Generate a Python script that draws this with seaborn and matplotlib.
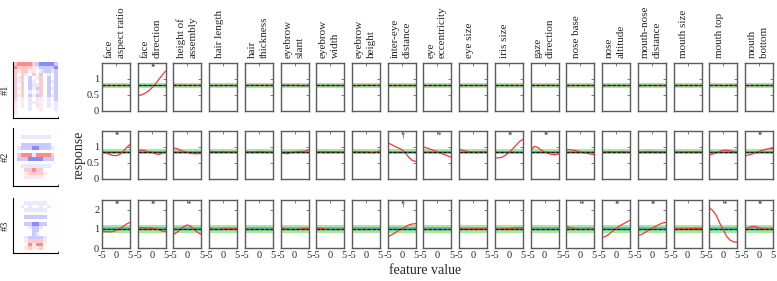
import numpy as np
import seaborn as sns
import matplotlib.pyplot as plt

sns.set_style('white')
plt.rcParams['font.family'] = ['Liberation Serif', 'DejaVu Serif']

features = ["face\naspect ratio", "face\ndirection", "height of\nassembly", "hair length",
            "hair\nthickness", "eyebrow\nslant", "eyebrow\nwidth", "eyebrow\nheight",
            "inter-eye\ndistance", "eye\neccentricity", "eye size", "iris size",
            "gaze\ndirection", "nose base", "nose\naltitude", "mouth-nose\ndistance",
            "mouth size", "mouth top", "mouth\nbottom"]
feature_x = [-5, -3.75, -2.5, -1.25, 0, 1.25, 2.5, 3.75, 5]

# mean response of each unit (green band = spread around it)
baseline = [0.8, 0.85, 1.0]
band_outer = [0.08, 0.08, 0.2]
band_inner = [0.025, 0.025, 0.07]
ytop = [1.5, 1.5, 2.5]
yticks = [[0, 0.5, 1], [0, 0.5, 1], [0, 1, 2]]
ytick_labels = [["0", "0.5", "1"], ["0", "0.5", "1"], ["0", "1", "2"]]

resp_row1 = [
    [0.80, 0.80, 0.80, 0.80, 0.80, 0.80, 0.80, 0.80, 0.80],
    [0.48, 0.50, 0.55, 0.62, 0.72, 0.84, 0.98, 1.12, 1.25],
    [0.81, 0.80, 0.80, 0.80, 0.80, 0.80, 0.80, 0.80, 0.81],
    [0.80, 0.80, 0.80, 0.80, 0.80, 0.80, 0.80, 0.80, 0.80],
    [0.79, 0.80, 0.80, 0.80, 0.80, 0.80, 0.80, 0.80, 0.80],
    [0.80, 0.80, 0.80, 0.80, 0.80, 0.80, 0.79, 0.79, 0.80],
    [0.80, 0.80, 0.80, 0.80, 0.80, 0.80, 0.80, 0.80, 0.80],
    [0.79, 0.79, 0.80, 0.80, 0.80, 0.80, 0.80, 0.80, 0.80],
    [0.80, 0.80, 0.80, 0.80, 0.80, 0.80, 0.80, 0.80, 0.80],
    [0.80, 0.80, 0.80, 0.80, 0.80, 0.80, 0.80, 0.80, 0.80],
    [0.80, 0.80, 0.80, 0.80, 0.80, 0.80, 0.80, 0.80, 0.80],
    [0.80, 0.80, 0.80, 0.80, 0.80, 0.80, 0.80, 0.80, 0.80],
    [0.80, 0.80, 0.80, 0.80, 0.80, 0.80, 0.80, 0.80, 0.79],
    [0.80, 0.80, 0.80, 0.80, 0.80, 0.80, 0.80, 0.80, 0.80],
    [0.80, 0.80, 0.80, 0.80, 0.80, 0.80, 0.80, 0.80, 0.80],
    [0.80, 0.80, 0.80, 0.80, 0.80, 0.80, 0.80, 0.80, 0.80],
    [0.80, 0.80, 0.80, 0.80, 0.80, 0.80, 0.80, 0.80, 0.80],
    [0.80, 0.80, 0.80, 0.80, 0.79, 0.80, 0.80, 0.80, 0.80],
    [0.80, 0.80, 0.80, 0.80, 0.80, 0.80, 0.80, 0.80, 0.80],
]
resp_row2 = [
    [0.85, 0.82, 0.78, 0.74, 0.73, 0.76, 0.85, 0.98, 1.08],
    [0.88, 0.91, 0.89, 0.85, 0.83, 0.79, 0.77, 0.80, 0.86],
    [0.98, 0.95, 0.90, 0.86, 0.83, 0.80, 0.79, 0.79, 0.80],
    [0.86, 0.86, 0.85, 0.85, 0.86, 0.85, 0.84, 0.85, 0.85],
    [0.85, 0.85, 0.85, 0.85, 0.86, 0.86, 0.85, 0.85, 0.85],
    [0.85, 0.80, 0.79, 0.82, 0.85, 0.86, 0.86, 0.87, 0.91],
    [0.85, 0.85, 0.85, 0.85, 0.85, 0.85, 0.84, 0.84, 0.85],
    [0.86, 0.86, 0.85, 0.85, 0.85, 0.84, 0.82, 0.84, 0.88],
    [1.13, 1.08, 1.02, 0.97, 0.92, 0.82, 0.68, 0.58, 0.55],
    [1.00, 0.97, 0.93, 0.89, 0.85, 0.80, 0.76, 0.72, 0.68],
    [0.93, 0.90, 0.87, 0.85, 0.84, 0.84, 0.85, 0.85, 0.86],
    [0.66, 0.66, 0.68, 0.74, 0.83, 0.93, 1.05, 1.17, 1.24],
    [0.88, 1.02, 0.99, 0.90, 0.85, 0.80, 0.77, 0.76, 0.78],
    [0.92, 0.92, 0.90, 0.88, 0.85, 0.82, 0.80, 0.78, 0.76],
    [0.85, 0.85, 0.86, 0.85, 0.85, 0.85, 0.86, 0.85, 0.85],
    [0.85, 0.85, 0.86, 0.86, 0.86, 0.85, 0.85, 0.85, 0.85],
    [0.85, 0.85, 0.85, 0.84, 0.85, 0.85, 0.85, 0.85, 0.85],
    [0.75, 0.78, 0.82, 0.86, 0.90, 0.90, 0.88, 0.86, 0.85],
    [0.72, 0.75, 0.78, 0.82, 0.86, 0.90, 0.93, 0.95, 0.95],
]
resp_row3 = [
    [0.85, 0.85, 0.84, 0.85, 0.90, 1.00, 1.12, 1.25, 1.33],
    [1.05, 1.05, 1.05, 1.04, 1.03, 1.00, 0.95, 0.88, 0.85],
    [0.70, 0.82, 0.98, 1.12, 1.20, 1.12, 0.95, 0.80, 0.70],
    [1.00, 0.98, 0.96, 0.97, 0.99, 1.00, 1.00, 1.00, 1.01],
    [1.00, 1.00, 1.00, 1.00, 1.00, 1.00, 1.00, 1.00, 1.00],
    [1.00, 1.00, 0.98, 0.96, 0.96, 0.97, 1.00, 1.02, 1.00],
    [1.03, 1.02, 0.99, 0.97, 0.96, 0.96, 0.96, 0.97, 0.98],
    [1.00, 1.00, 1.00, 1.00, 1.00, 1.00, 1.00, 1.00, 1.00],
    [0.58, 0.68, 0.78, 0.90, 1.00, 1.10, 1.20, 1.25, 1.27],
    [1.00, 1.00, 1.00, 1.00, 1.00, 1.00, 1.00, 1.00, 1.00],
    [1.00, 1.00, 0.99, 0.99, 1.00, 1.00, 1.00, 1.00, 1.00],
    [0.98, 0.98, 1.00, 1.00, 1.00, 1.02, 1.05, 1.05, 1.05],
    [1.00, 1.00, 1.00, 1.00, 1.00, 1.00, 1.00, 1.00, 1.00],
    [1.12, 1.07, 1.02, 0.98, 0.96, 0.96, 0.97, 0.98, 0.98],
    [0.55, 0.60, 0.72, 0.88, 1.02, 1.15, 1.25, 1.35, 1.45],
    [0.65, 0.70, 0.80, 0.92, 1.02, 1.12, 1.22, 1.30, 1.33],
    [1.00, 1.00, 1.00, 1.00, 1.00, 1.01, 1.02, 1.02, 1.02],
    [2.10, 1.95, 1.70, 1.30, 0.95, 0.60, 0.40, 0.32, 0.30],
    [0.95, 1.05, 1.12, 1.12, 1.05, 1.00, 0.98, 0.98, 1.00],
]
marks_row1 = ["", "*", "", "", "", "", "", "", "", "", "", "", "", "", "", "", "", "", ""]
marks_row2 = ["*", "", "", "", "", "", "", "", "\u2020", "*", "", "*", "*", "", "", "", "", "", "*"]
marks_row3 = ["*", "*", "*", "", "", "", "", "", "\u2020", "", "", "", "", "*", "*", "*", "", "*", "*"]

# receptive field images, coarse: R/r/q red, B/b/p blue, . zero
shade = {'R': 1.0, 'r': 0.45, 'q': 0.2, '.': 0.0, 'p': -0.2, 'b': -0.45, 'B': -1.0}
unit1_img = [
    "rRRRRrbBBBBb",
    "RrrrrqpbbbbB",
    "rqrrqq.pbbpb",
    "r.rq.r.b.p.b",
    "rpr.b.qr.b.b",
    "rpr.bq.r.bpb",
    "r.r.bppr.b.b",
    "rpr.bqbr.bpb",
    "r.r.p.pr.b.b",
    "rpr.bqbr.bpb",
    "r.q.p.pq.p.b",
    "q.q.pqpq.p.p",
    "q.q.p.pq.p.p",
    "q...p..q...p",
    "q...........",
    "............",
]
unit2_img = [
    "............",
    "............",
    "..pppppppp..",
    "............",
    "..bbbbbbbb..",
    ".pbbbBBbbbp.",
    "............",
    ".rRRRpRRRRr.",
    ".bbbBBBBbbb.",
    "............",
    "..pppppppp..",
    "...rrRrr....",
    "...qrrrrq...",
    "...qqqqq....",
    "............",
    "............",
]
unit3_img = [
    "............",
    "...pppppp...",
    "..p.p..p.p..",
    "...pppppp...",
    "............",
    "...bbbbbb...",
    "............",
    "...bbBBbb...",
    "....pbbp....",
    ".....bb.....",
    ".....bp.....",
    "...pbbbbp...",
    "...qrrrrq...",
    "....RqRR....",
    "...qrqqr....",
    "............",
]

rows = [resp_row1, resp_row2, resp_row3]
marks = [marks_row1, marks_row2, marks_row3]
images = [unit1_img, unit2_img, unit3_img]

W, H = 777, 281
fig = plt.figure(figsize=(W / 100, H / 100), dpi=100)


def box(x0, y0, x1, y1):
    return [x0 / W, 1 - y1 / H, (x1 - x0) / W, (y1 - y0) / H]


row_tops = [63, 131, 200]
row_h = 48
img_tops = [62, 128, 198]
img_bots = [118, 186, 253]

for r in range(3):
    top = row_tops[r]
    for c in range(19):
        left = 102 + c * 35.72
        ax = fig.add_axes(box(left, top, left + 28, top + row_h))
        b = baseline[r]
        ax.axhspan(b - band_outer[r], b + band_outer[r], color='#a4ea98', lw=0)
        ax.axhspan(b - band_inner[r], b + band_inner[r], color='#52c2c6', lw=0)
        ax.axhline(b, color='#2c6a90', lw=1.0)
        sns.lineplot(x=feature_x, y=rows[r][c], ax=ax, color='#ff3434', lw=0.9)
        ax.axhline(b, color='#1a1a1a', lw=0.8, ls=(0, (3, 1.5)))
        if marks[r][c]:
            ax.text(0.4, ytop[r] * 0.9, marks[r][c], ha='center', va='center',
                    fontsize=6.5, color='#333333')
        ax.set_xlim(-5, 5)
        ax.set_ylim(0, ytop[r])
        ax.set_xticks([-5, 0, 5])
        ax.set_xticklabels(['-5', '0', '5'])
        ax.set_yticks(yticks[r])
        ax.set_yticklabels(ytick_labels[r])
        ax.tick_params(direction='in', length=2, width=0.6, top=True, right=True,
                       color='#666666', labelsize=7.5, pad=2,
                       labelleft=(c == 0), labelbottom=(r == 2))
        for s in ax.spines.values():
            s.set_color('#5a5a5a')
            s.set_linewidth(1.0)
        ax.set_xlabel('')
        ax.set_ylabel('')
        if r == 0:
            xt = 0.47 if '\n' in features[c] else 0.36
            ax.text(xt, 1.1, features[c], rotation=90, ha='center', va='bottom',
                    multialignment='left', linespacing=1.4, fontsize=8,
                    transform=ax.transAxes)

    # receptive field image of the unit
    mat = np.array([[shade[ch] for ch in line] for line in images[r]])
    axi = fig.add_axes(box(13, img_tops[r], 58, img_bots[r]))
    sns.heatmap(mat, cmap='bwr', vmin=-2.2, vmax=2.2, cbar=False, ax=axi,
                xticklabels=False, yticklabels=False)
    for s in ['left', 'bottom']:
        axi.spines[s].set_visible(True)
        axi.spines[s].set_color('black')
        axi.spines[s].set_linewidth(0.8)
    axi.set_xticks(np.linspace(0, 12, 9))
    axi.tick_params(axis='x', bottom=True, direction='in', length=1.5, width=0.5,
                    labelbottom=False)
    fig.text(5 / W, 1 - (img_tops[r] + img_bots[r]) / 2 / H, '#%d' % (r + 1),
             rotation=90, ha='center', va='center', fontsize=7.5)

fig.text(79 / W, 1 - 155 / H, 'response', rotation=90, ha='center', va='center',
         fontsize=10)
fig.text(425 / W, 1 - 271 / H, 'feature value', ha='center', va='center',
         fontsize=10)

fig.savefig('out.png', dpi=100)
